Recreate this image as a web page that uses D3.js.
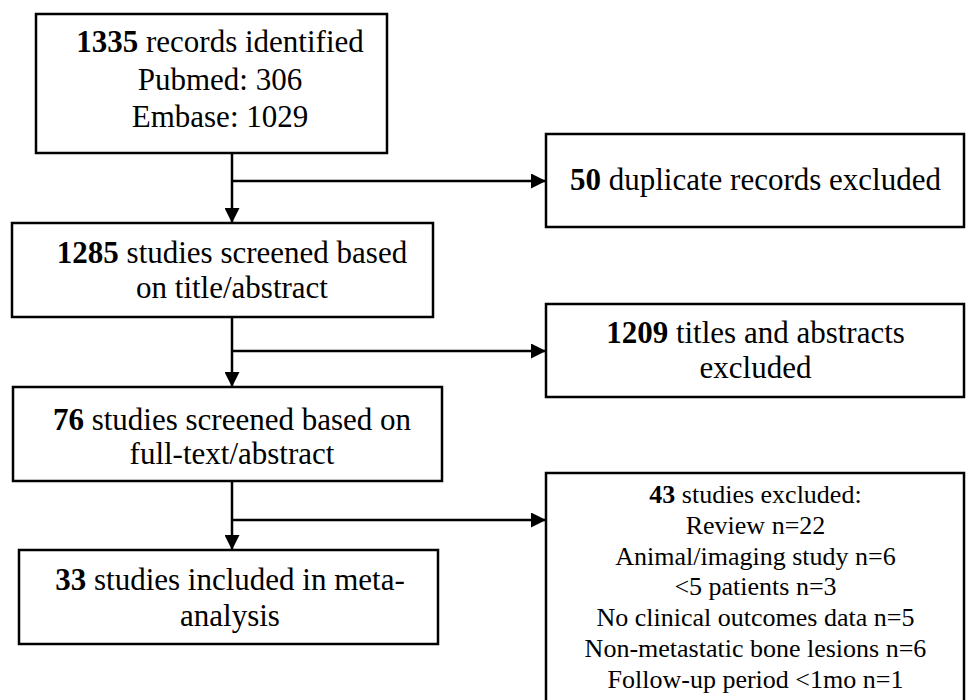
<!DOCTYPE html>
<html>
<head>
<meta charset="utf-8">
<script src="https://cdn.jsdelivr.net/npm/d3@7"></script>
<style>
  body { margin: 0; background: #fff; }
  .box { fill: #fff; stroke: #000; stroke-width: 2.5; }
  .link { stroke: #000; stroke-width: 2.5; fill: none; }
  text { font-family: "Liberation Serif", "Times New Roman", serif; fill: #000; }
</style>
</head>
<body>
<div id="chart"></div>
<script>
// ---- data ----
var sourceNames  = ["Pubmed", "Embase"];
var sourceCounts = [306, 1029];

var mainCounts = [1335, 1285, 76, 33];
var mainLabels = [
    ["records identified"],
    ["studies screened based", "on title/abstract"],
    ["studies screened based on", "full-text/abstract"],
    ["studies included in meta-", "analysis"]
];

var excludedCounts = [50, 1209, 43];
var excludedLabels = [
    ["duplicate records excluded"],
    ["titles and abstracts", "excluded"],
    ["studies excluded:"]
];

var reasonNames  = ["Review", "Animal/imaging study", "<5 patients", "No clinical outcomes data", "Non-metastatic bone lesions", "Follow-up period <1mo"];
var reasonCounts = [22, 6, 3, 5, 6, 1];

// ---- layout ----
var width = 966, height = 700;
var spineX = 232;

var mainBoxes = [
    {x0: 36, x1: 387, y0: 14,  y1: 153, cx: 220, base: 52,  lh: 37.5, size: 31},
    {x0: 12, x1: 433, y0: 223, y1: 317, cx: 232, base: 263, lh: 35,   size: 31},
    {x0: 13, x1: 442, y0: 387, y1: 481, cx: 232, base: 430, lh: 34,   size: 31},
    {x0: 19, x1: 438, y0: 550, y1: 644, cx: 230, base: 590, lh: 36,   size: 31}
];
var sideBoxes = [
    {x0: 546, x1: 964, y0: 134, y1: 227, cx: 755.5, base: 190, lh: 35,   size: 31, arrowY: 181},
    {x0: 546, x1: 964, y0: 304, y1: 397, cx: 755.5, base: 343, lh: 35,   size: 31, arrowY: 351},
    {x0: 546, x1: 964, y0: 473, y1: 706, cx: 755.5, base: 503, lh: 30.8, size: 26, arrowY: 520}
];

// build line lists: first line has a bold count
function buildLines(count, labels) {
    var lines = [];
    labels.forEach(function(l, i) {
        lines.push(i === 0 ? {bold: String(count), rest: " " + l} : {bold: "", rest: l});
    });
    return lines;
}

mainBoxes.forEach(function(b, i) { b.lines = buildLines(mainCounts[i], mainLabels[i]); });
sourceNames.forEach(function(s, i) {
    mainBoxes[0].lines.push({bold: "", rest: s + ": " + sourceCounts[i]});
});
sideBoxes.forEach(function(b, i) { b.lines = buildLines(excludedCounts[i], excludedLabels[i]); });
reasonNames.forEach(function(r, i) {
    sideBoxes[2].lines.push({bold: "", rest: r + " n=" + reasonCounts[i]});
});

var svg = d3.select("#chart").append("svg")
    .attr("width", width)
    .attr("height", height);

svg.append("defs").append("marker")
    .attr("id", "arrow")
    .attr("markerUnits", "userSpaceOnUse")
    .attr("viewBox", "0 0 15 15")
    .attr("refX", 15)
    .attr("refY", 7.5)
    .attr("markerWidth", 15)
    .attr("markerHeight", 15)
    .attr("orient", "auto")
    .append("path")
    .attr("d", "M0,0L15,7.5L0,15Z")
    .attr("fill", "#000");

// vertical connectors between main boxes
var vLinks = d3.pairs(mainBoxes);
svg.selectAll(".vlink")
    .data(vLinks)
    .enter()
    .append("line")
    .attr("class", "link vlink")
    .attr("x1", spineX)
    .attr("x2", spineX)
    .attr("y1", function(d) { return d[0].y1; })
    .attr("y2", function(d) { return d[1].y0; })
    .attr("marker-end", "url(#arrow)");

// side connectors
svg.selectAll(".hlink")
    .data(sideBoxes)
    .enter()
    .append("line")
    .attr("class", "link hlink")
    .attr("x1", spineX)
    .attr("x2", function(d) { return d.x0; })
    .attr("y1", function(d) { return d.arrowY; })
    .attr("y2", function(d) { return d.arrowY; })
    .attr("marker-end", "url(#arrow)");

var allBoxes = mainBoxes.concat(sideBoxes);

var g = svg.selectAll(".node")
    .data(allBoxes)
    .enter()
    .append("g")
    .attr("class", "node");

g.append("rect")
    .attr("class", "box")
    .attr("x", function(d) { return d.x0; })
    .attr("y", function(d) { return d.y0; })
    .attr("width", function(d) { return d.x1 - d.x0; })
    .attr("height", function(d) { return d.y1 - d.y0; });

g.each(function(b) {
    var t = d3.select(this).selectAll("text")
        .data(b.lines)
        .enter()
        .append("text")
        .attr("x", b.cx)
        .attr("y", function(d, i) { return b.base + i * b.lh; })
        .attr("text-anchor", "middle")
        .style("font-size", b.size + "px");

    t.append("tspan")
        .style("font-weight", "bold")
        .text(function(d) { return d.bold; });
    t.append("tspan")
        .text(function(d) { return d.rest; });
});
</script>
</body>
</html>
